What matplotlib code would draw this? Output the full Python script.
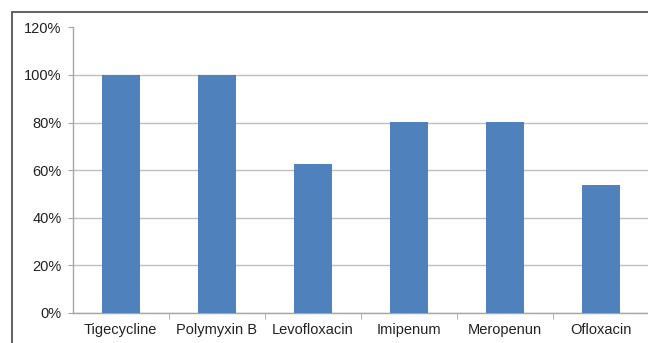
import matplotlib.pyplot as plt
from matplotlib.patches import Rectangle
from matplotlib.ticker import PercentFormatter

plt.rcParams['font.family'] = ['Liberation Sans', 'DejaVu Sans']

# susceptibility per antibiotic (%)
drugs = ["Tigecycline", "Polymyxin B", "Levofloxacin", "Imipenum", "Meropenun", "Ofloxacin"]
susceptible = [100, 100, 62.4, 80.4, 80.4, 53.6]
y_ticks = [0, 20, 40, 60, 80, 100, 120]

fig = plt.figure(figsize=(6.48, 3.43), dpi=100)
ax = fig.add_axes([72.7 / 648, 30 / 343, (649 - 72.7) / 648, 285.6 / 343])

# frame around the chart area (only left and top edges fall inside the image)
fig.patches.append(Rectangle((12 / 648, -0.1), 1.2, 1.1 - 12 / 343, transform=fig.transFigure,
                             fill=False, edgecolor="#555555", linewidth=1.3))

x = range(len(drugs))
ax.bar(x, susceptible, width=0.4, color="#4F81BD", zorder=3)

ax.set_xlim(-0.5, len(drugs) - 0.5)
ax.set_ylim(0, 120)
ax.set_yticks(y_ticks)
ax.yaxis.set_major_formatter(PercentFormatter(decimals=0))
ax.set_xticks(x)
ax.set_xticklabels(drugs)
ax.set_xticks([i + 0.5 for i in range(len(drugs))], minor=True)

ax.grid(axis="y", color="#c0c0c0", linewidth=1.0, zorder=0)
ax.yaxis.get_gridlines()[-1].set_visible(False)

for side in ["top", "right"]:
    ax.spines[side].set_visible(False)
for side in ["left", "bottom"]:
    ax.spines[side].set_color("#a6a6a6")
    ax.spines[side].set_linewidth(1.0)

ax.tick_params(axis="y", length=3.5, color="#a6a6a6", labelsize=10.5, labelcolor="#222222", pad=4.5)
ax.tick_params(axis="x", which="major", length=0, labelsize=10.5, labelcolor="#222222", pad=7)
ax.tick_params(axis="x", which="minor", length=4, color="#a6a6a6")

fig.savefig("out.png", dpi=100)
